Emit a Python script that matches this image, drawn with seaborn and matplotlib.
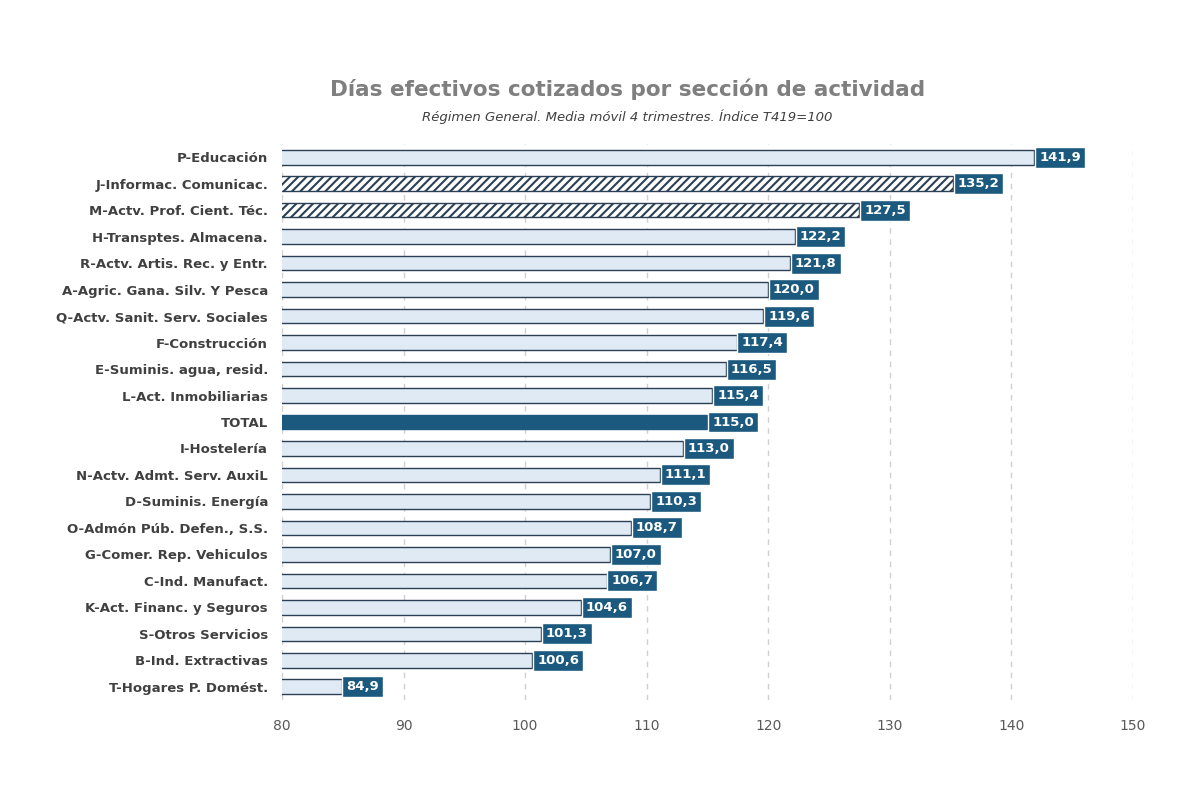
import matplotlib
matplotlib.use("Agg")
import matplotlib.pyplot as plt
import pandas as pd
import seaborn as sns

categories = ["P-Educación", "J-Informac. Comunicac.", "M-Actv. Prof. Cient. Téc.",
              "H-Transptes. Almacena.", "R-Actv. Artis. Rec. y Entr.",
              "A-Agric. Gana. Silv. Y Pesca", "Q-Actv. Sanit. Serv. Sociales",
              "F-Construcción", "E-Suminis. agua, resid.", "L-Act. Inmobiliarias",
              "TOTAL", "I-Hostelería", "N-Actv. Admt. Serv. AuxiL",
              "D-Suminis. Energía", "O-Admón Púb. Defen., S.S.",
              "G-Comer. Rep. Vehiculos", "C-Ind. Manufact.",
              "K-Act. Financ. y Seguros", "S-Otros Servicios",
              "B-Ind. Extractivas", "T-Hogares P. Domést."]
values = [141.9, 135.2, 127.5, 122.2, 121.8, 120.0, 119.6, 117.4, 116.5, 115.4,
          115.0, 113.0, 111.1, 110.3, 108.7, 107.0, 106.7, 104.6, 101.3, 100.6, 84.9]
hatched = ["J-Informac. Comunicac.", "M-Actv. Prof. Cient. Téc."]

DARK = "#1b5a7e"
LIGHT = "#dceaf8"
EDGE = "#2b3f55"

df = pd.DataFrame({"cat": categories, "val": values})

sns.set_style("white")
plt.rcParams["font.family"] = ["DejaVu Sans"]
plt.rcParams["hatch.color"] = EDGE
plt.rcParams["hatch.linewidth"] = 1.5
fig = plt.figure(figsize=(12, 8), dpi=100)
ax = fig.add_axes([0.235, 0.125, 0.709, 0.695])

sns.barplot(data=df, y="cat", x="val", orient="h", ax=ax, width=0.55,
            color=LIGHT, edgecolor=EDGE, linewidth=1.0)

for bar, cat in zip(ax.patches, categories):
    if cat == "TOTAL":
        bar.set_facecolor(DARK)
        bar.set_edgecolor(DARK)
    elif cat in hatched:
        bar.set_facecolor("white")
        bar.set_hatch("////")

for i, v in enumerate(values):
    ax.text(v + 0.4, i, f"{v:.1f}".replace(".", ","), va="center", ha="left",
            color="white", fontsize=9.5, fontweight="bold",
            bbox=dict(boxstyle="square,pad=0.3", facecolor=DARK, edgecolor="white", linewidth=1))

ax.set_xlim(80, 150)
ax.set_xticks(range(80, 151, 10))
ax.set_ylim(len(values) - 0.5, -0.5)
ax.set_xlabel("")
ax.set_ylabel("")
ax.xaxis.grid(True, linestyle=(0, (4, 4)), color="#d0d0d0", linewidth=1)
ax.set_axisbelow(True)
for s in ax.spines.values():
    s.set_visible(False)
ax.tick_params(axis="x", colors="#595959", labelsize=10, length=0, pad=14)
ax.tick_params(axis="y", length=0, pad=10)
for lab in ax.get_yticklabels():
    lab.set_fontweight("bold")
    lab.set_color("#404040")
    lab.set_fontsize(9.5)

fig.text(0.523, 0.88, "Días efectivos cotizados por sección de actividad", ha="center",
         fontsize=15.5, fontweight="bold", color="#7f7f7f")
fig.text(0.523, 0.849, "Régimen General. Media móvil 4 trimestres. Índice T419=100",
         ha="center", fontsize=9.5, style="italic", color="#404040")

fig.savefig("out.png")
